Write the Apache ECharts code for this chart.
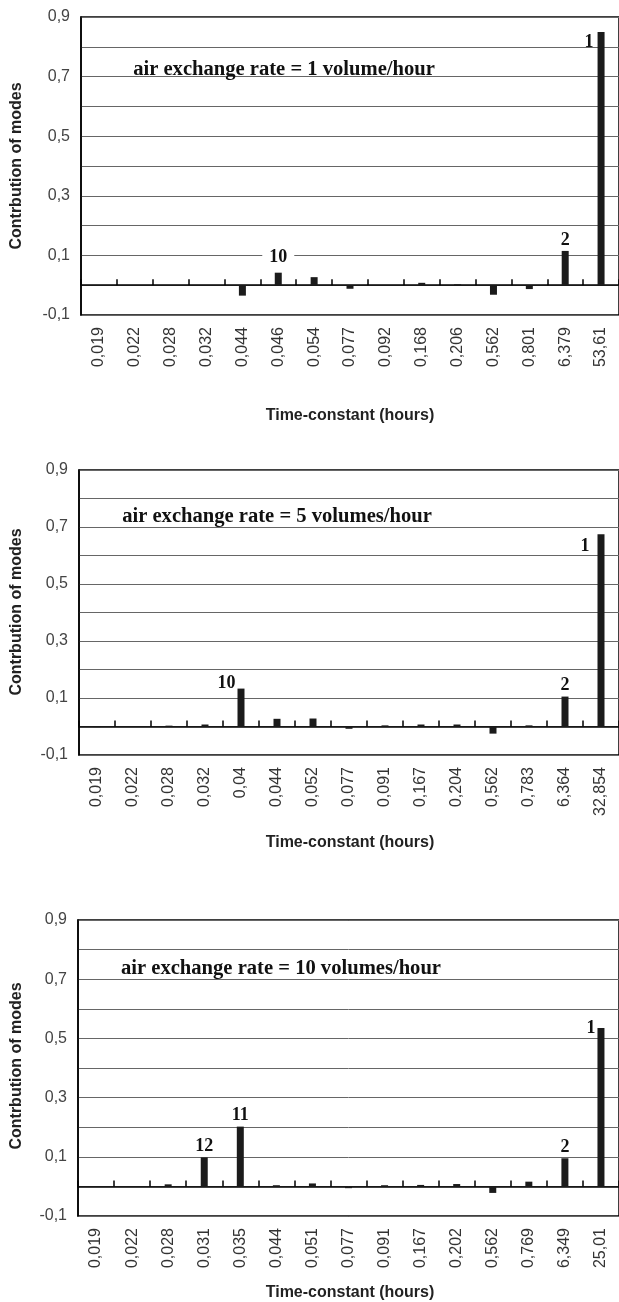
<!DOCTYPE html>
<html>
<head>
<meta charset="utf-8">
<script src="https://cdn.jsdelivr.net/npm/echarts@6/dist/echarts.min.js"></script>
<style>
html,body{margin:0;padding:0;background:#fff;}
#c{width:619px;height:1302px;}
</style>
</head>
<body>
<div id="c"></div>
<script>
// ---- data ----
const categories1 = ['0,019','0,022','0,028','0,032','0,044','0,046','0,054','0,077','0,092','0,168','0,206','0,562','0,801','6,379','53,61'];
const values1 = [0, 0, 0, 0, -0.035, 0.042, 0.027, -0.012, 0, 0.008, 0.003, -0.032, -0.013, 0.115, 0.85];
const modes1 = ['', '', '', '', '', '10', '', '', '', '', '', '', '', '2', '1'];

const categories2 = ['0,019','0,022','0,028','0,032','0,04','0,044','0,052','0,077','0,091','0,167','0,204','0,562','0,783','6,364','32,854'];
const values2 = [-0.002, 0, 0.003, 0.007, 0.133, 0.027, 0.028, -0.008, 0.004, 0.007, 0.007, -0.025, 0.004, 0.105, 0.675];
const modes2 = ['', '', '', '', '10', '', '', '', '', '', '', '', '', '2', '1'];

const categories3 = ['0,019','0,022','0,028','0,031','0,035','0,044','0,051','0,077','0,091','0,167','0,202','0,562','0,769','6,349','25,01'];
const values3 = [0, 0, 0.007, 0.098, 0.202, 0.004, 0.01, -0.006, 0.004, 0.005, 0.008, -0.022, 0.016, 0.095, 0.535];
const modes3 = ['', '', '', '12', '11', '', '', '', '', '', '', '', '', '2', '1'];

const titles = ['air exchange rate = 1 volume/hour', 'air exchange rate = 5 volumes/hour', 'air exchange rate = 10 volumes/hour'];
const yName = 'Contrbution of modes';
const xName = 'Time-constant (hours)';
const yMin = -0.1, yMax = 0.9, yStep = 0.1;

// ---- layout (styles only) ----
const grids = [
  {left: 81, top: 17, width: 542, height: 298},
  {left: 79, top: 470, width: 544, height: 285},
  {left: 78, top: 920, width: 545, height: 296}
];
const titlePos = [[284, 70], [277, 517], [281, 969]];
const yNamePos = [[17, 166], [17, 612], [17, 1066]];
const xNamePos = [[350, 416], [350, 843], [350, 1293]];

const cats = [categories1, categories2, categories3];
const vals = [values1, values2, values3];
const modes = [modes1, modes2, modes3];

const sideLabel = [
  {'1': [-4, 1]},
  {'1': [-8, 3], '10': [-2, -14]},
  {'1': [-2, -9]}
];

const labelFont = {fontFamily: '"Liberation Serif", serif', fontWeight: 'bold', fontSize: 18, color: '#111'};

function buildData(ci) {
  return vals[ci].map((v, i) => {
    const m = modes[ci][i];
    if (!m) return {value: v, label: {show: false}};
    const side = sideLabel[ci][m];
    if (side) {
      return {value: v, label: Object.assign({show: true, formatter: m, position: side, align: 'right', verticalAlign: 'top'}, labelFont)};
    }
    const extra = (ci === 0 && m === '10') ? {distance: 6, backgroundColor: '#fff', padding: [0, 7]} : {distance: 2};
    return {value: v, label: Object.assign({show: true, formatter: m, position: 'top'}, labelFont, extra)};
  });
}

const option = {
  animation: false,
  backgroundColor: '#fff',
  grid: grids.map(g => Object.assign({show: true, borderColor: '#000', borderWidth: 1.5, backgroundColor: 'transparent', containLabel: false}, g)),
  xAxis: [],
  yAxis: [],
  series: [],
  graphic: []
};

for (let ci = 0; ci < 3; ci++) {
  option.xAxis.push({
    type: 'category', gridIndex: ci, data: cats[ci], position: 'bottom',
    axisLine: {show: true, onZero: true, lineStyle: {color: '#000', width: 1.5}},
    axisTick: {show: true, inside: true, length: 6, interval: 0, lineStyle: {color: '#000', width: 1.5}},
    axisLabel: {show: false},
    splitLine: {show: false}
  });
  option.xAxis.push({
    type: 'category', gridIndex: ci, data: cats[ci], position: 'bottom',
    axisLine: {show: false, onZero: false},
    axisTick: {show: false},
    axisLabel: {show: true, rotate: 90, interval: 0, margin: 12, fontSize: 16, color: '#333', fontFamily: '"Liberation Sans", Arial, sans-serif'},
    splitLine: {show: false}
  });
  option.yAxis.push({
    type: 'value', gridIndex: ci, min: yMin, max: yMax, interval: yStep,
    axisLine: {show: true, onZero: false, lineStyle: {color: '#000', width: 1.5}},
    axisTick: {show: false},
    axisLabel: {
      margin: 11, fontSize: 16, color: '#444', fontFamily: '"Liberation Sans", Arial, sans-serif',
      formatter: function (v) {
        const n = Math.round(v * 10);
        return Math.abs(n) % 2 === 1 ? (n / 10).toFixed(1).replace('.', ',') : '';
      }
    },
    splitLine: {show: true, lineStyle: {color: '#666', width: 1}}
  });
  option.series.push({
    type: 'bar', xAxisIndex: ci * 2, yAxisIndex: ci, barWidth: 7,
    itemStyle: {color: '#1b1b1b'},
    data: buildData(ci)
  });
  option.graphic.push({
    type: 'text', x: titlePos[ci][0], y: titlePos[ci][1], z: 100,
    style: {text: titles[ci], font: 'bold 20.6px "Liberation Serif", serif', fill: '#111', textAlign: 'center', textVerticalAlign: 'middle'}
  });
  option.graphic.push({
    type: 'text', x: yNamePos[ci][0], y: yNamePos[ci][1], rotation: Math.PI / 2, z: 100,
    style: {text: yName, font: 'bold 16px "Liberation Sans", Arial, sans-serif', fill: '#222', textAlign: 'center', textVerticalAlign: 'middle'}
  });
  option.graphic.push({
    type: 'text', x: xNamePos[ci][0], y: xNamePos[ci][1], z: 100,
    style: {text: xName, font: 'bold 16px "Liberation Sans", Arial, sans-serif', fill: '#222', textAlign: 'center', textVerticalAlign: 'middle'}
  });
}

const chart = echarts.init(document.getElementById('c'), null, {renderer: 'canvas'});
chart.setOption(option);
</script>
</body>
</html>
